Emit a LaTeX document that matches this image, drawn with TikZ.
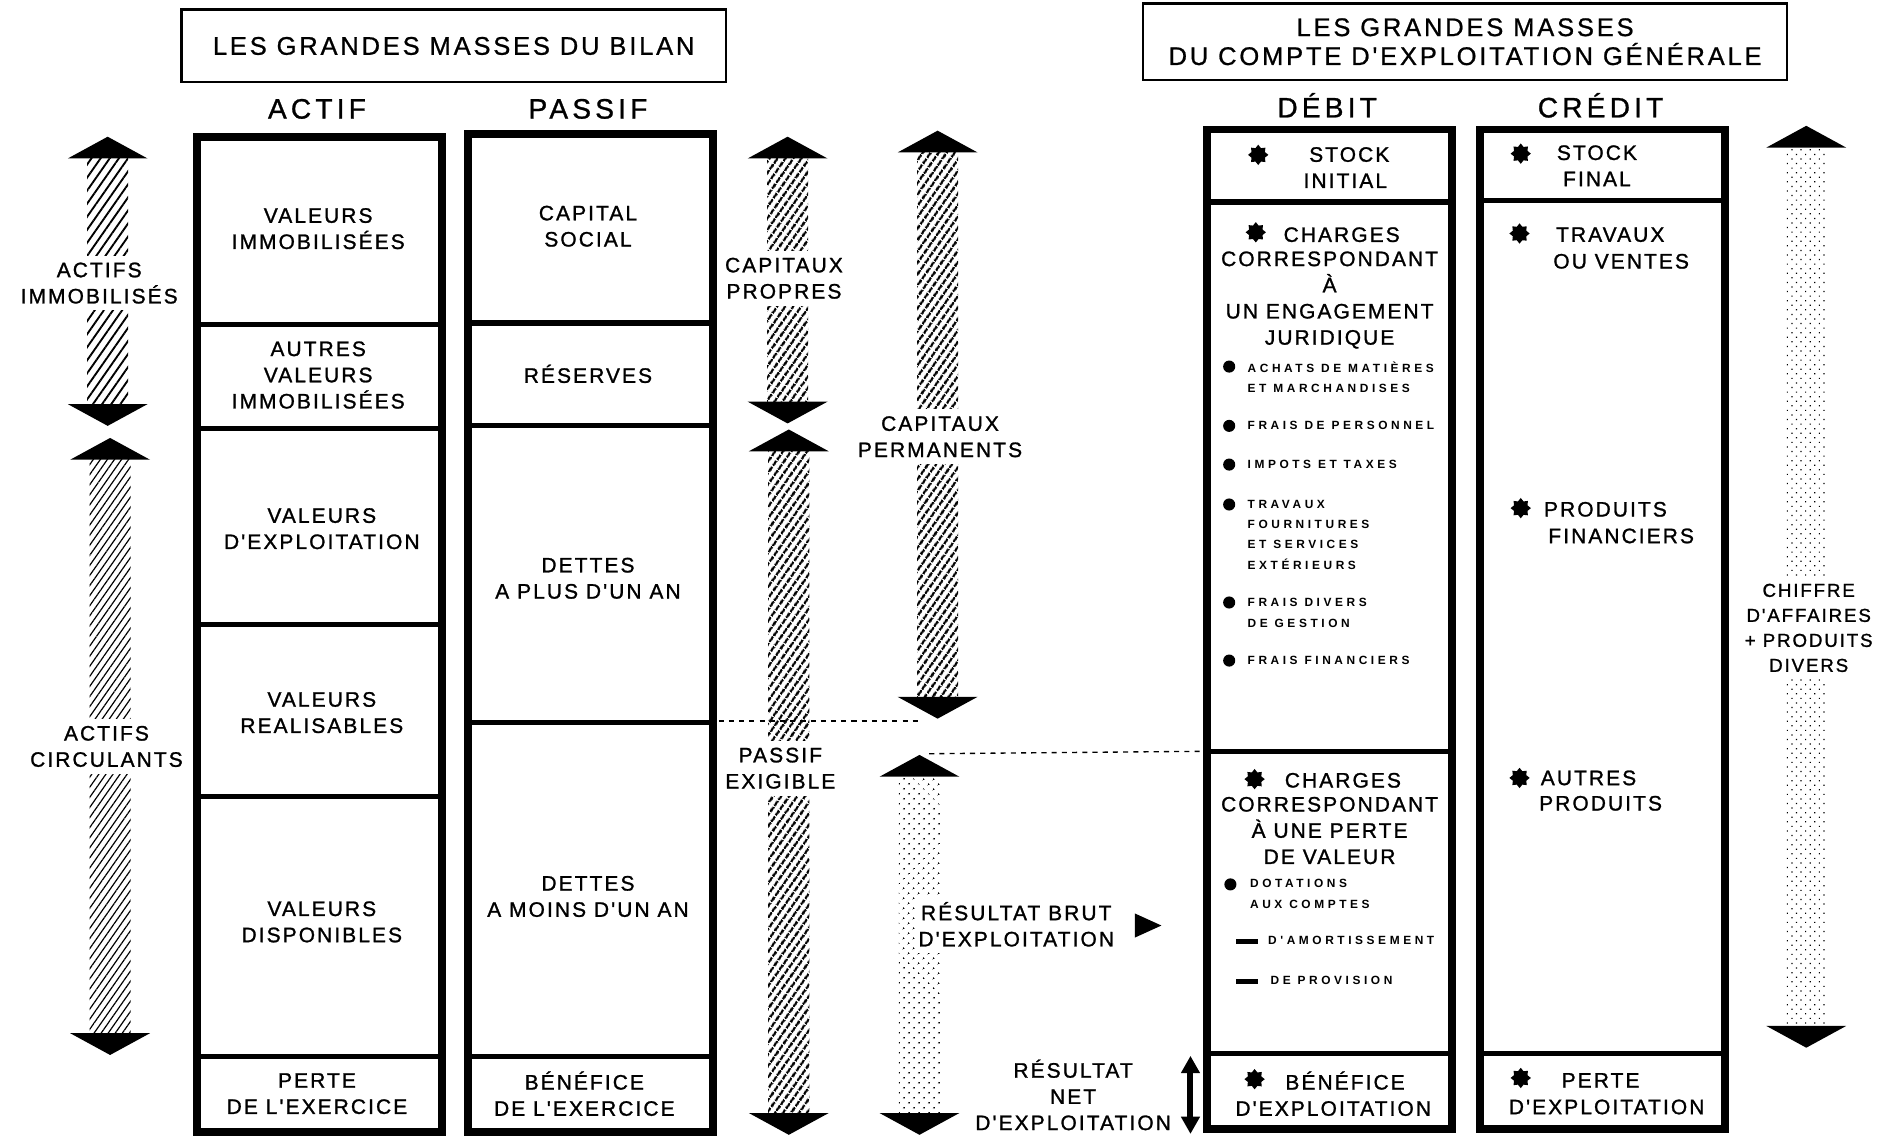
\documentclass[tikz,border=0pt]{standalone}
\usepackage{fontspec}
\setmainfont{Liberation Sans}
\newfontfamily\labfont{Liberation Sans}[LetterSpace=10,FakeBold=1.2]
\newfontfamily\ttlfont{Liberation Sans}[LetterSpace=11,FakeBold=0.8]
\newfontfamily\headfont{Liberation Sans}[LetterSpace=15,FakeBold=1]
\newfontfamily\itemfont{Liberation Sans Bold}[LetterSpace=30]
\usetikzlibrary{patterns,patterns.meta,shapes.geometric}
\newcommand{\vdarrow}[4]{%
  \path[#4] ({#1-17},{#2+16}) rectangle ({#1+17},{#3-16});
  \fill ({#1},{#2}) -- ({#1+33},{#2+18}) -- ({#1-33},{#2+18}) -- cycle;
  \fill ({#1},{#3}) -- ({#1+33},{#3-18}) -- ({#1-33},{#3-18}) -- cycle;
}
\begin{document}
\begin{tikzpicture}[x=0.025cm,y=-0.025cm,
  lbl/.style={font=\labfont\fontsize{12.3}{15.4}\selectfont, align=center, inner sep=0pt},
  head/.style={font=\headfont\fontsize{16.5}{20}\selectfont, inner sep=0pt, anchor=base},
  ttl/.style={font=\ttlfont\fontsize{15}{17}\selectfont, align=center, inner sep=0pt, draw, line width=1.4pt},
  itm/.style={font=\itemfont\fontsize{7}{12}\selectfont, align=left, inner sep=0pt, anchor=west},
  cut/.style={lbl, fill=white, inner xsep=1pt, inner ysep=4pt},
  starmark/.style={star, star points=8, star point ratio=1.4, fill=black, inner sep=0pt, minimum size=0.42cm},
  colbox/.style={line width=4.6pt},
  divider/.style={line width=3pt},
  hatchA/.style={pattern={Lines[angle=55,distance=4pt,line width=1.5pt]}},
  hatchB/.style={pattern={Lines[angle=55,distance=4.4pt,line width=1.1pt]}},
  hatchC/.style={pattern={Lines[angle=55,distance=3.4pt,line width=0.7pt]}},
  dotsA/.style={pattern={Dots[distance=4pt,radius=0.6pt,angle=45]}},
  dotsB/.style={pattern={Dots[distance=3.8pt,radius=0.5pt,angle=45]}},
  dashline/.style={dash pattern=on 3pt off 3pt, line width=0.8pt}
]
\useasboundingbox (0,0) rectangle (1568,940);

% ---------- titles ----------
\node[ttl, minimum width=11.25cm, minimum height=1.5cm] (t1) at (375,38) {LES GRANDES MASSES DU BILAN};
\node[ttl, minimum width=13.3cm, minimum height=1.575cm] (t2) at (1211,34.5) {LES GRANDES MASSES\\DU COMPTE D'EXPLOITATION GÉNÉRALE};

\node[head] (hA) at (262,98) {ACTIF};
\node[head] (hP) at (486,98) {PASSIF};
\node[head] (hD) at (1097,97) {DÉBIT};
\node[head] (hC) at (1323,97) {CRÉDIT};

% ---------- columns ----------
\draw[colbox] (163,113) rectangle (365,936);
\foreach \yy in {268,354,516,658,873} \draw[divider] (163,\yy) -- (365,\yy);
\draw[colbox] (387,111) rectangle (589,936);
\foreach \yy in {267,352,873} \draw[divider] (387,\yy) -- (589,\yy);
\draw[divider] (387,597) -- (589,597) coordinate (pdiv);
\draw[colbox] (998,107) rectangle (1200,933);
\foreach \yy in {167,871} \draw[divider] (998,\yy) -- (1200,\yy);
\draw[divider] (1200,621) -- (998,621) coordinate (ddiv);
\draw[colbox] (1223,107) rectangle (1426,933);
\foreach \yy in {166,871} \draw[divider] (1223,\yy) -- (1426,\yy);

% ---------- ACTIF cells ----------
\node[lbl] (a1) at (263,189) {VALEURS\\IMMOBILISÉES};
\node[lbl] (a2) at (263,310) {AUTRES\\VALEURS\\IMMOBILISÉES};
\node[lbl] (a3) at (266,437) {VALEURS\\D'EXPLOITATION};
\node[lbl] (a4) at (266,589) {VALEURS\\REALISABLES};
\node[lbl] (a5) at (266,762) {VALEURS\\DISPONIBLES};
\node[lbl] (a6) at (262,904) {PERTE\\DE L'EXERCICE};

% ---------- PASSIF cells ----------
\node[lbl] (p1) at (486,187) {CAPITAL\\SOCIAL};
\node[lbl] (p2) at (486,309) {RÉSERVES};
\node[lbl] (p3) at (486,478) {DETTES\\A PLUS D'UN AN};
\node[lbl] (p4) at (486,741) {DETTES\\A MOINS D'UN AN};
\node[lbl] (p5) at (483,904) {BÉNÉFICE\\DE L'EXERCICE};

% ---------- arrows ----------
\vdarrow{89}{113}{352}{hatchB}
\vdarrow{91}{362}{872}{hatchC}
\vdarrow{651}{113}{350}{hatchA}
\vdarrow{652}{355}{938}{hatchA}
\vdarrow{775}{108}{594}{hatchA}
\vdarrow{760}{624}{938}{dotsA}
\vdarrow{1493}{104}{866}{dotsB}

\node[cut] (l1) at (82,234) {ACTIFS\\IMMOBILISÉS};
\node[cut] (l2) at (88,617) {ACTIFS\\CIRCULANTS};
\node[cut] (l3) at (648,230) {CAPITAUX\\PROPRES};
\node[cut] (l4) at (645,635) {PASSIF\\EXIGIBLE};
\node[cut] (l5) at (777,361) {CAPITAUX\\PERMANENTS};
\node[cut] (l6) at (840,764) {RÉSULTAT BRUT\\D'EXPLOITATION};
\node[cut, font=\labfont\fontsize{11}{14.7}\selectfont] (l7) at (1495,519) {CHIFFRE\\D'AFFAIRES\\+ PRODUITS\\DIVERS};
\node[lbl] (l8) at (887,905) {RÉSULTAT\\NET\\D'EXPLOITATION};

% result arrows
\fill (938,755) -- (960,765) -- (938,775) -- cycle;
\coordinate (rnt) at (984,873);
\coordinate (rnb) at (984,937);
\fill (981.5,884) rectangle (986.5,926);
\fill (rnt) -- (992,887) -- (976,887) -- cycle;
\fill (rnb) -- (992,923) -- (976,923) -- cycle;

% dashed lines
\coordinate (cpb) at (760,596);
\coordinate (rbt) at (768,623);
\draw[dashline] ([xshift=1.5pt]pdiv) ++(3,-1) -- (cpb);
\draw[dashline] (rbt) -- ([xshift=-2pt]ddiv);

% ---------- DEBIT ----------
\node[starmark] (s1) at (1040,128) {};
\node[lbl] (d1) at (1112,138.5) {\ STOCK\\INITIAL};
\node[starmark] (s2) at (1038,192) {};
\node[lbl] (d2) at (1109,194) {CHARGES};
\node[lbl] (d3) at (1099,248) {CORRESPONDANT\\À\\UN ENGAGEMENT\\JURIDIQUE};

\foreach \yy in {303,352,384,417,498,546} \fill (1016,\yy) circle (5);
\node[itm] (i1) at (1031,312) {ACHATS DE MATIÈRES\\ET MARCHANDISES};
\node[itm] (i2) at (1031,352) {FRAIS DE PERSONNEL};
\node[itm] (i3) at (1031,384) {IMPOTS ET TAXES};
\node[itm] (i4) at (1031,442) {TRAVAUX\\FOURNITURES\\ET SERVICES\\EXTÉRIEURS};
\node[itm] (i5) at (1031,506.5) {FRAIS DIVERS\\DE GESTION};
\node[itm] (i6) at (1031,546) {FRAIS FINANCIERS};

\node[starmark] (s3) at (1037,644) {};
\node[lbl] (d4) at (1110,645) {CHARGES};
\node[lbl] (d5) at (1099,686.5) {CORRESPONDANT\\À UNE  PERTE\\DE VALEUR};
\fill (1017,731) circle (5);
\node[itm] (i7) at (1033,739) {DOTATIONS\\AUX COMPTES};
\fill (1022,776) rectangle (1040,780.5);
\node[itm] (i8) at (1048,777) {D'AMORTISSEMENT};
\fill (1022,809) rectangle (1040,813.5);
\node[itm] (i9) at (1050,810) {DE PROVISION};

\node[starmark] (s4) at (1037,892) {};
\node[lbl] (d6) at (1102,904) {\ \ \ BÉNÉFICE\\D'EXPLOITATION};

% ---------- CREDIT ----------
\node[starmark] (s5) at (1257,127) {};
\node[lbl] (c1) at (1320,137) {STOCK\\FINAL};
\node[starmark] (s6) at (1256,193) {};
\node[lbl] (c2) at (1331,194) {TRAVAUX};
\node[lbl] (c3) at (1340,216) {OU VENTES};
\node[starmark] (s7) at (1257,420) {};
\node[lbl] (c4) at (1327,421) {PRODUITS};
\node[lbl] (c5) at (1340,443) {FINANCIERS};
\node[starmark] (s8) at (1256,643) {};
\node[lbl] (c6) at (1313,643) {AUTRES};
\node[lbl] (c7) at (1323,664) {PRODUITS};
\node[starmark] (s9) at (1257,891) {};
\node[lbl] (c8) at (1323,893) {PERTE};
\node[lbl] (c9) at (1328,915) {D'EXPLOITATION};
\end{tikzpicture}
\end{document}
